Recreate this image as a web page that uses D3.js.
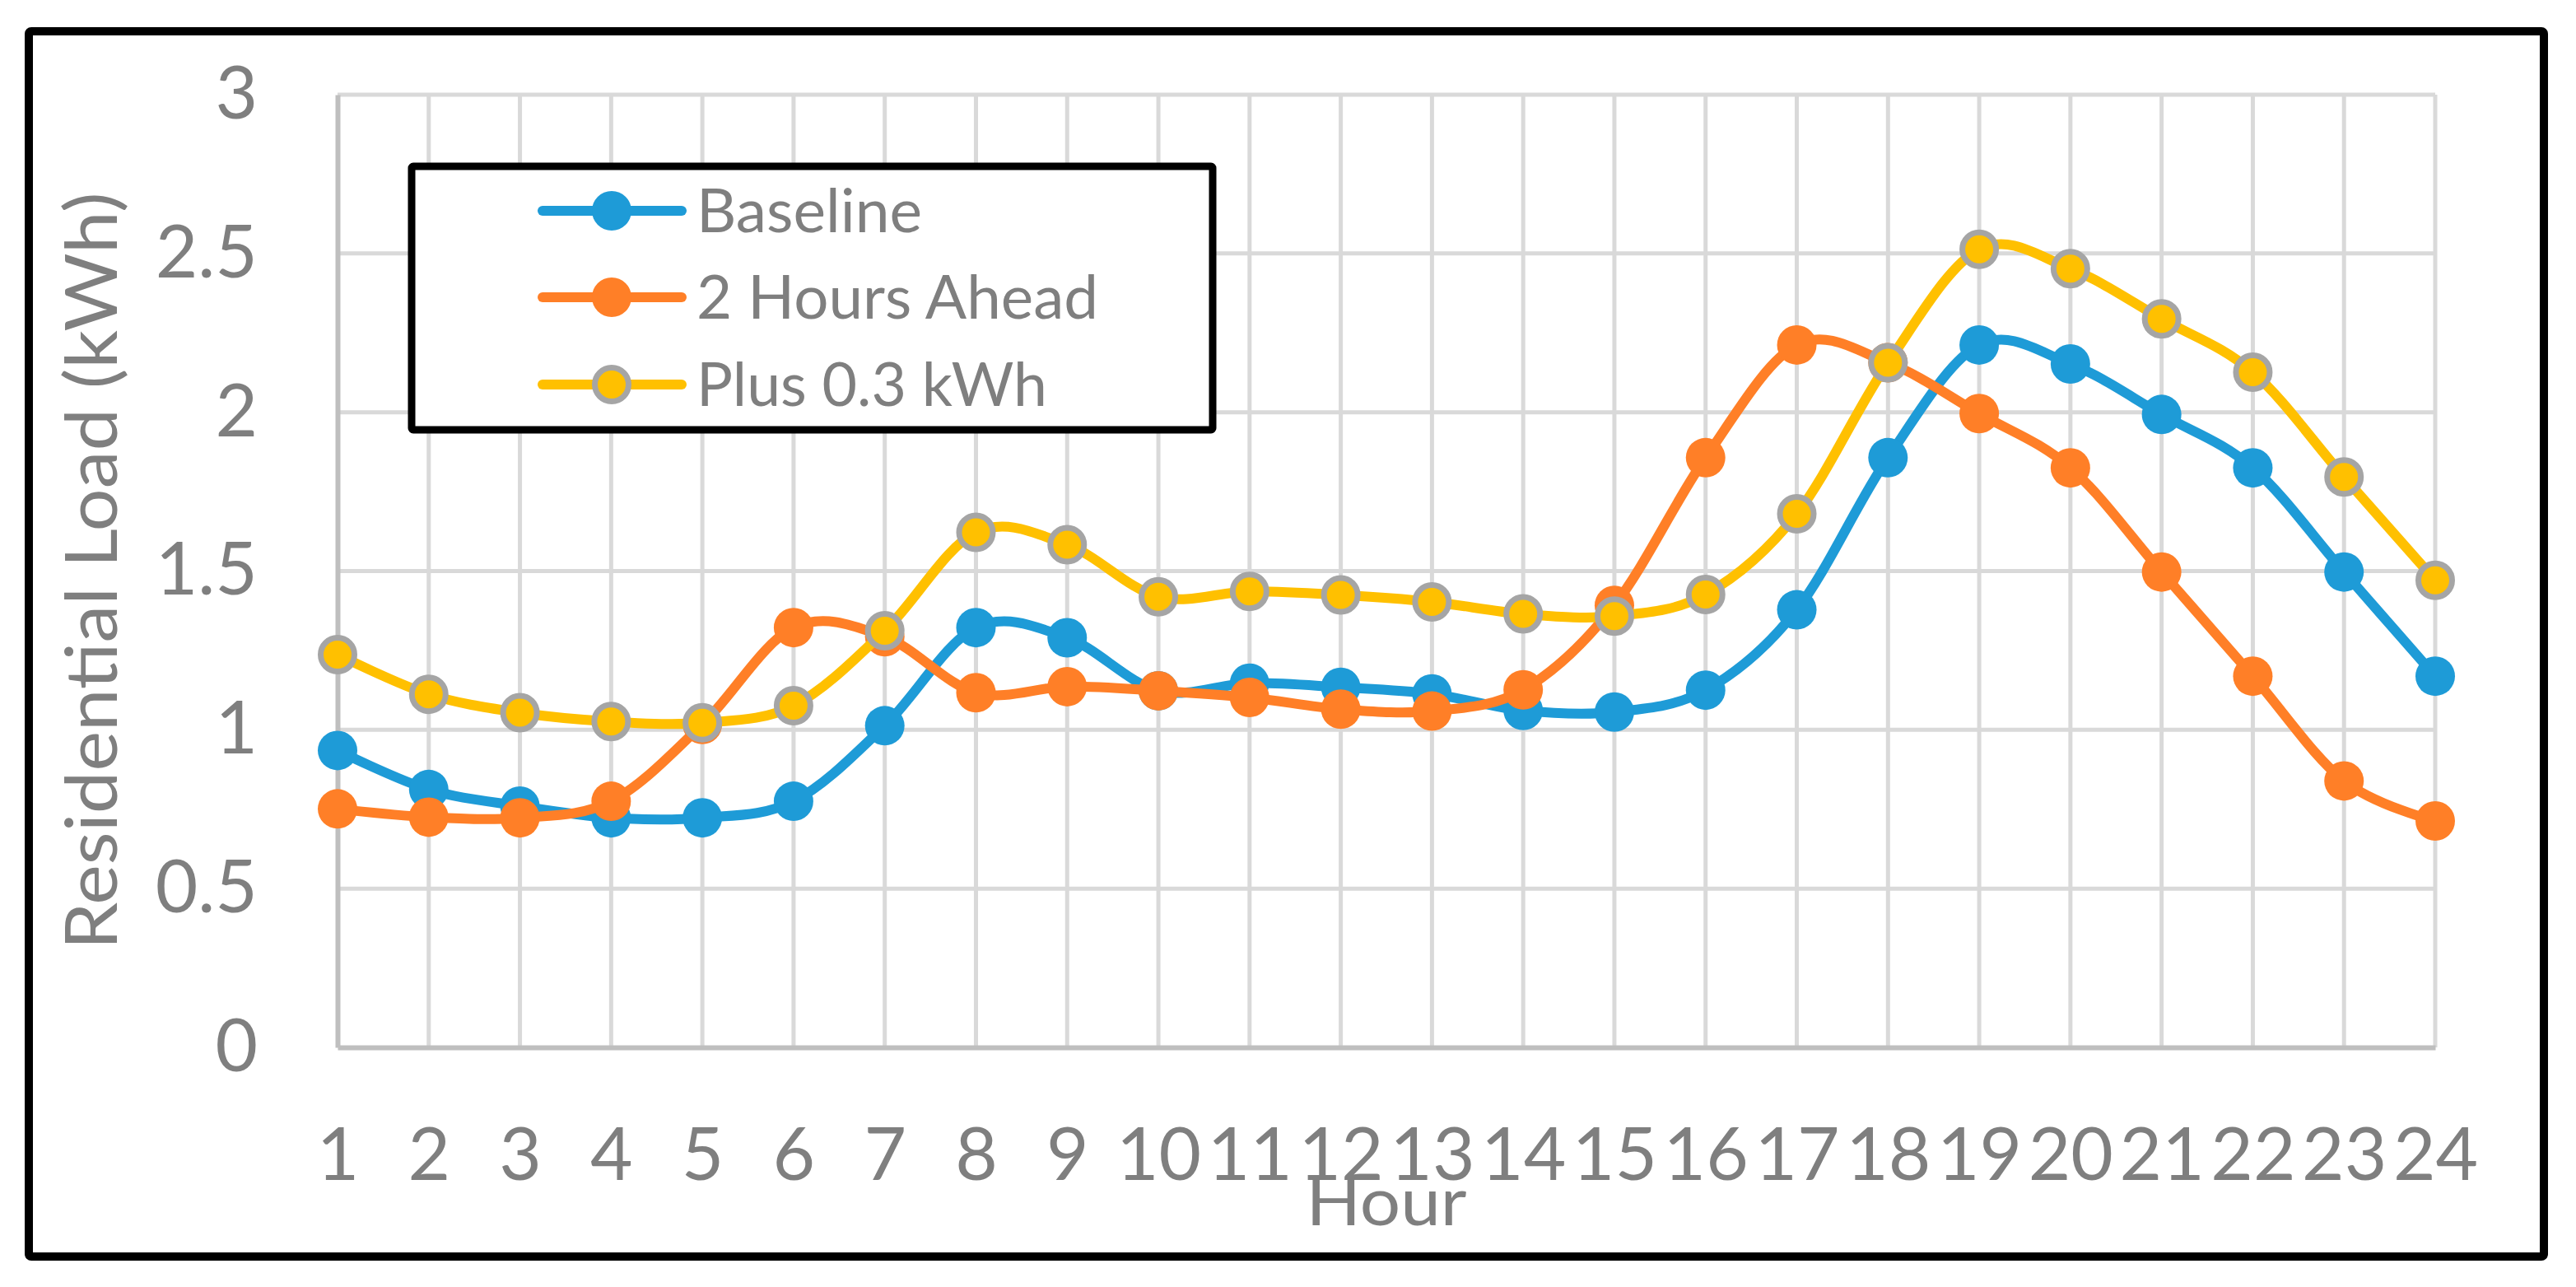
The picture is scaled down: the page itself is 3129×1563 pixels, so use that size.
<!DOCTYPE html>
<html><head><meta charset="utf-8">
<script src="https://cdn.jsdelivr.net/npm/d3@7"></script>
<style>html,body{margin:0;padding:0;background:#fff;} svg{display:block;}</style>
</head><body>
<svg id="chart" width="3129" height="1563"></svg>
<script>
const hours = [1,2,3,4,5,6,7,8,9,10,11,12,13,14,15,16,17,18,19,20,21,22,23,24];
const hourLabels = ["1","2","3","4","5","6","7","8","9","10","11","12","13","14","15","16","17","18","19","20","21","22","23","24"];
const yTicks = [0, 0.5, 1, 1.5, 2, 2.5, 3];
const yTickLabels = ["0","0.5","1","1.5","2","2.5","3"];
const seriesNames = ["Baseline", "2 Hours Ahead", "Plus 0.3 kWh"];
const baseline = [0.935,0.812,0.760,0.723,0.723,0.775,1.013,1.322,1.290,1.123,1.147,1.134,1.113,1.061,1.056,1.125,1.378,1.857,2.212,2.152,1.993,1.825,1.497,1.169];
const twoHoursAhead = [0.751,0.725,0.723,0.775,1.017,1.322,1.293,1.117,1.136,1.123,1.102,1.065,1.059,1.126,1.392,1.857,2.212,2.156,1.996,1.825,1.497,1.169,0.839,0.713];
const plus03 = [1.237,1.112,1.054,1.026,1.022,1.076,1.312,1.622,1.583,1.419,1.436,1.425,1.403,1.365,1.358,1.426,1.680,2.156,2.513,2.452,2.294,2.126,1.796,1.471];
const xTitle = "Hour";
const yTitle = "Residential Load (kWh)";

const FONT = "Lato, 'Open Sans', sans-serif";
const TXT = "#7f7f7f";
const styles = [
  {color: "#1e9bd7", fill: "#1e9bd7", stroke: "none"},
  {color: "#ff7f27", fill: "#ff7f27", stroke: "none"},
  {color: "#ffc000", fill: "#ffc000", stroke: "#a5a5a5"}
];
const seriesData = [baseline, twoHoursAhead, plus03];

const svg = d3.select("#chart");
const L = 410, R = 2958, T = 115, B = 1272;
const x = d3.scaleLinear().domain([1, 24]).range([L, R]);
const y = d3.scaleLinear().domain([0, 3]).range([B, T]);

// outer frame
svg.append("rect").attr("x", 35).attr("y", 38).attr("width", 3055).attr("height", 1488)
  .attr("fill", "#fff").attr("stroke", "#000").attr("stroke-width", 10).attr("rx", 3);

// gridlines
svg.append("g").selectAll("line").data(yTicks.filter(d => d > 0)).join("line")
  .attr("x1", L).attr("x2", R).attr("y1", d => y(d)).attr("y2", d => y(d))
  .attr("stroke", "#d9d9d9").attr("stroke-width", 5);
svg.append("g").selectAll("line").data(hours.filter(d => d > 1)).join("line")
  .attr("x1", d => x(d)).attr("x2", d => x(d)).attr("y1", T).attr("y2", B)
  .attr("stroke", "#d9d9d9").attr("stroke-width", 5);

// axes
const xAxis = d3.axisBottom(x).tickValues(hours).tickFormat((d, i) => hourLabels[i]).tickSize(0).tickPadding(98);
const gx = svg.append("g").attr("transform", `translate(0,${B})`).call(xAxis);
gx.select(".domain").attr("stroke", "#bfbfbf").attr("stroke-width", 6);
gx.selectAll("text").attr("font-family", FONT).attr("font-size", 89).attr("fill", TXT);

const yAxis = d3.axisLeft(y).tickValues(yTicks).tickFormat((d, i) => yTickLabels[i]).tickSize(0).tickPadding(97);
const gy = svg.append("g").attr("transform", `translate(${L},0)`).call(yAxis);
gy.select(".domain").attr("stroke", "#bfbfbf").attr("stroke-width", 6);
gy.selectAll("text").attr("font-family", FONT).attr("font-size", 89).attr("fill", TXT);

// series
const line = d3.line().x((d, i) => x(hours[i])).y(d => y(d)).curve(d3.curveCatmullRom.alpha(0));
seriesData.forEach((data, s) => {
  const g = svg.append("g");
  g.append("path").datum(data).attr("d", line).attr("fill", "none")
    .attr("stroke", styles[s].color).attr("stroke-width", 12)
    .attr("stroke-linejoin", "round").attr("stroke-linecap", "round");
  g.selectAll("circle").data(data).join("circle")
    .attr("cx", (d, i) => x(hours[i])).attr("cy", d => y(d))
    .attr("r", styles[s].stroke === "none" ? 24 : 20.5)
    .attr("fill", styles[s].fill)
    .attr("stroke", styles[s].stroke).attr("stroke-width", styles[s].stroke === "none" ? 0 : 7);
});

// legend
const lg = svg.append("g");
lg.append("rect").attr("x", 500).attr("y", 202).attr("width", 973).attr("height", 320)
  .attr("fill", "#fff").attr("stroke", "#000").attr("stroke-width", 9).attr("rx", 2);
const rowY = [256, 361, 467];
const legendLens = [274, 488, 426];
seriesNames.forEach((name, s) => {
  lg.append("line").attr("x1", 659).attr("x2", 828).attr("y1", rowY[s]).attr("y2", rowY[s])
    .attr("stroke", styles[s].color).attr("stroke-width", 12).attr("stroke-linecap", "round");
  lg.append("circle").attr("cx", 743).attr("cy", rowY[s])
    .attr("r", styles[s].stroke === "none" ? 24 : 20.5)
    .attr("fill", styles[s].fill)
    .attr("stroke", styles[s].stroke).attr("stroke-width", styles[s].stroke === "none" ? 0 : 7);
  lg.append("text").attr("x", 846).attr("y", rowY[s] + 26).text(name)
    .attr("font-family", FONT).attr("font-size", 73).attr("fill", TXT)
    .attr("textLength", legendLens[s]).attr("lengthAdjust", "spacingAndGlyphs");
});

// titles
svg.append("text").attr("x", (L + R) / 2).attr("y", 1488).attr("text-anchor", "middle")
  .text(xTitle).attr("font-family", FONT).attr("font-size", 82).attr("fill", TXT)
  .attr("textLength", 195).attr("lengthAdjust", "spacingAndGlyphs");
svg.append("text").attr("transform", `translate(142,${(T + B) / 2}) rotate(-90)`)
  .attr("text-anchor", "middle").text(yTitle)
  .attr("font-family", FONT).attr("font-size", 88).attr("fill", TXT)
  .attr("textLength", 920).attr("lengthAdjust", "spacingAndGlyphs");
</script>
</body></html>
